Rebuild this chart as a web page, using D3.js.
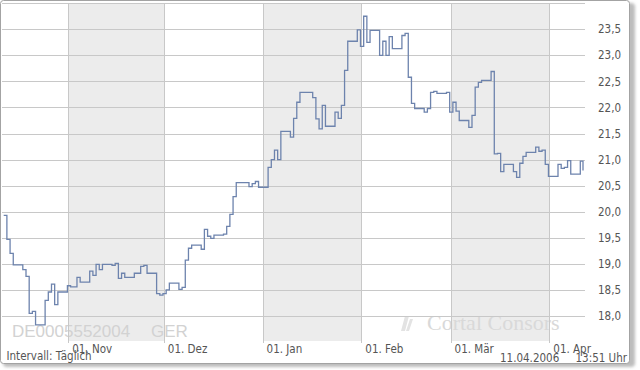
<!DOCTYPE html>
<html><head><meta charset="utf-8">
<script src="https://cdn.jsdelivr.net/npm/d3@7"></script>
<style>
html,body{margin:0;padding:0;background:#fff;}
svg{display:block;}
text{font-family:'DejaVu Sans Condensed','DejaVu Sans',sans-serif;font-stretch:condensed;}
</style></head><body>
<svg id="chart" width="640" height="370"></svg>
<script>
// ---- data ----
const dates = ["2005-10-11","2005-10-12","2005-10-13","2005-10-14","2005-10-17","2005-10-18","2005-10-19","2005-10-20","2005-10-21",
"2005-10-24","2005-10-25","2005-10-26","2005-10-27","2005-10-28","2005-10-31","2005-11-01","2005-11-03","2005-11-04",
"2005-11-07","2005-11-08","2005-11-09","2005-11-10","2005-11-11","2005-11-14","2005-11-15","2005-11-16","2005-11-17","2005-11-18",
"2005-11-21","2005-11-23","2005-11-24","2005-11-25","2005-11-28","2005-11-29","2005-11-30","2005-12-01","2005-12-02",
"2005-12-05","2005-12-06","2005-12-07","2005-12-08","2005-12-09","2005-12-12","2005-12-13","2005-12-14","2005-12-15","2005-12-16",
"2005-12-19","2005-12-20","2005-12-21","2005-12-22","2005-12-23","2005-12-27","2005-12-28","2005-12-29","2005-12-30",
"2006-01-02","2006-01-03","2006-01-04","2006-01-05","2006-01-06","2006-01-09","2006-01-10","2006-01-11","2006-01-12",
"2006-01-16","2006-01-17","2006-01-18","2006-01-19","2006-01-20","2006-01-23","2006-01-24","2006-01-25","2006-01-26","2006-01-27",
"2006-01-30","2006-01-31","2006-02-01","2006-02-02","2006-02-03","2006-02-06","2006-02-07","2006-02-08","2006-02-09","2006-02-10",
"2006-02-13","2006-02-14","2006-02-15","2006-02-16","2006-02-17","2006-02-20","2006-02-21","2006-02-22","2006-02-23","2006-02-24",
"2006-02-27","2006-02-28","2006-03-01","2006-03-02","2006-03-03","2006-03-06","2006-03-07","2006-03-08","2006-03-09","2006-03-10",
"2006-03-13","2006-03-14","2006-03-15","2006-03-16","2006-03-17","2006-03-20","2006-03-21","2006-03-22","2006-03-23","2006-03-24",
"2006-03-27","2006-03-28","2006-03-29","2006-03-30","2006-03-31","2006-04-03","2006-04-04","2006-04-05","2006-04-06","2006-04-07",
"2006-04-10","2006-04-11T13:51"];
const prices = [19.93,19.47,19.20,18.98,18.89,18.76,18.05,18.09,17.83,
18.30,18.46,18.61,18.22,18.46,18.58,18.56,18.74,18.65,
18.86,18.78,18.99,18.89,18.99,18.97,19.01,18.72,18.82,18.74,
18.82,18.95,18.97,18.82,18.43,18.40,18.43,18.50,18.63,
18.51,18.55,19.07,19.30,19.36,19.28,19.66,19.53,19.49,19.55,
19.57,19.72,19.95,20.29,20.56,20.48,20.54,20.58,20.47,
20.85,21.00,21.18,21.00,21.54,21.43,21.79,22.10,22.29,
22.19,21.78,21.59,22.04,21.64,21.91,21.79,22.04,22.71,23.27,
23.49,23.17,23.75,23.25,23.48,23.00,23.27,23.00,23.36,23.13,
23.38,23.42,22.58,22.08,21.98,21.91,21.98,22.29,22.31,22.27,
22.29,21.91,22.10,21.93,21.75,21.62,21.85,22.39,22.48,22.52,
22.69,21.11,21.12,20.77,20.91,20.77,20.66,20.93,21.06,21.14,
21.24,21.16,21.18,20.91,20.68,20.91,20.83,20.85,20.98,20.72,
20.97,20.79];
const monthTicks = ["2005-11-01","2005-12-01","2006-01-01","2006-02-01","2006-03-01","2006-04-01"];
const monthLabels = ["01. Nov","01. Dez","01. Jan","01. Feb","01. Mär","01. Apr"];
const shadedMonths = [["2005-11-01","2005-12-01"],["2006-01-01","2006-02-01"],["2006-03-01","2006-04-01"]];
const yTicks = [18.0,18.5,19.0,19.5,20.0,20.5,21.0,21.5,22.0,22.5,23.0,23.5];
const yTickLabels = ["18,0","18,5","19,0","19,5","20,0","20,5","21,0","21,5","22,0","22,5","23,0","23,5"];
const yTop = 24.0;
const isin = "DE0005552004";
const exchange = "GER";
const intervalLabel = "Intervall: Täglich";
const stampDate = "11.04.2006";
const stampTime = "13:51 Uhr";
const brand = "Cortal Consors";

// ---- parsing ----
function parseDate(s){
  if (s.includes("T")) { const [d,t]=s.split("T"); const [Y,M,D]=d.split("-").map(Number); const [h,m]=t.split(":").map(Number); return new Date(Date.UTC(Y,M-1,D,h,m)); }
  const [Y,M,D]=s.split("-").map(Number); return new Date(Date.UTC(Y,M-1,D,17,30)); // daily close
}
function parseDay(s){ const [Y,M,D]=s.split("-").map(Number); return new Date(Date.UTC(Y,M-1,D)); }
const data = dates.map((d,i)=>({date:parseDate(d), value:prices[i]}));

const svg = d3.select("#chart");
const plotLeft = 2, plotRight = 585, plotTop = 3.3, plotBottom = 341;

const x = d3.scaleUtc().domain([data[0].date, data[data.length-1].date]).range([3.7, 583]);
const y = d3.scaleLinear().domain([18, 24]).range([316, 3.2]);

// frame + shadow
const defs = svg.append("defs");
defs.append("filter").attr("id","sh").attr("x","-5%").attr("y","-5%").attr("width","110%").attr("height","110%")
  .append("feGaussianBlur").attr("stdDeviation",1.6);
svg.append("rect").attr("x",3).attr("y",3).attr("width",632).attr("height",364).attr("rx",4)
  .attr("fill","#bdbdbd").attr("filter","url(#sh)");
svg.append("rect").attr("x",0.5).attr("y",0.5).attr("width",629).attr("height",363).attr("rx",3)
  .attr("fill","#fff").attr("stroke","#a3a3a3");

// shaded bands
svg.append("g").selectAll("rect").data(shadedMonths).join("rect")
  .attr("x", d=>Math.round(x(parseDay(d[0]))))
  .attr("width", d=>Math.round(x(parseDay(d[1])))-Math.round(x(parseDay(d[0]))))
  .attr("y", Math.round(plotTop)).attr("height", plotBottom-Math.round(plotTop))
  .attr("fill","#ececec");

// watermarks
svg.append("text").attr("x",12).attr("y",337).attr("fill","#d2d2d2")
  .style("font-family","'Liberation Sans',Arial,sans-serif").style("font-stretch","normal").style("font-size","17px").text(isin);
svg.append("text").attr("x",151).attr("y",337).attr("fill","#d2d2d2")
  .style("font-family","'Liberation Sans',Arial,sans-serif").style("font-stretch","normal").style("font-size","17px").text(exchange);
svg.append("path").attr("d","M401,331 L405,316 L409,316 L405,331 Z M406,331 L410,319 L413,319 L409,331 Z").attr("fill","#e3e3e3");
svg.append("text").attr("x",427).attr("y",330).attr("fill","#d9d9d9")
  .style("font-family","'Liberation Serif','Times New Roman',serif").style("font-stretch","normal").style("font-size","22px").text(brand);

// horizontal grid
svg.append("g").selectAll("line").data(yTicks.concat([yTop])).join("line")
  .attr("x1",plotLeft).attr("x2",plotRight)
  .attr("y1",d=>Math.round(y(d))+0.5).attr("y2",d=>Math.round(y(d))+0.5)
  .attr("stroke","#c8c8c8").attr("stroke-width",1);

// vertical month lines
svg.append("g").selectAll("line").data(monthTicks).join("line")
  .attr("x1",d=>Math.round(x(parseDay(d)))+0.5).attr("x2",d=>Math.round(x(parseDay(d)))+0.5)
  .attr("y1",Math.round(plotTop)).attr("y2",343)
  .attr("stroke","#c8c8c8").attr("stroke-width",1);

// y labels
svg.append("g").selectAll("text").data(yTicks).join("text")
  .attr("x",598).attr("y",d=>y(d)).attr("dy","0.36em")
  .attr("fill","#555").style("font-size","11.5px")
  .text((d,i)=>yTickLabels[i]);

// x labels
svg.append("g").selectAll("text").data(monthTicks).join("text")
  .attr("x",d=>x(parseDay(d))+4).attr("y",352.5)
  .attr("fill","#555").style("font-size","11.5px")
  .text((d,i)=>monthLabels[i]);

// price line
svg.append("path").datum(data)
  .attr("fill","none").attr("stroke","#6d83ad").attr("stroke-width",1.3)
  .attr("d", d3.line().x(d=>x(d.date)).y(d=>y(d.value)).curve(d3.curveStepAfter));

// footer texts
svg.append("text").attr("x",6.5).attr("y",359.5).attr("fill","#555").style("font-size","11.5px").text(intervalLabel);
svg.append("text").attr("x",500).attr("y",362).attr("fill","#555").style("font-size","11.5px").text(stampDate);
svg.append("text").attr("x",627).attr("y",362).attr("text-anchor","end").attr("fill","#555").style("font-size","11.5px").text(stampTime);
</script>
</body></html>
